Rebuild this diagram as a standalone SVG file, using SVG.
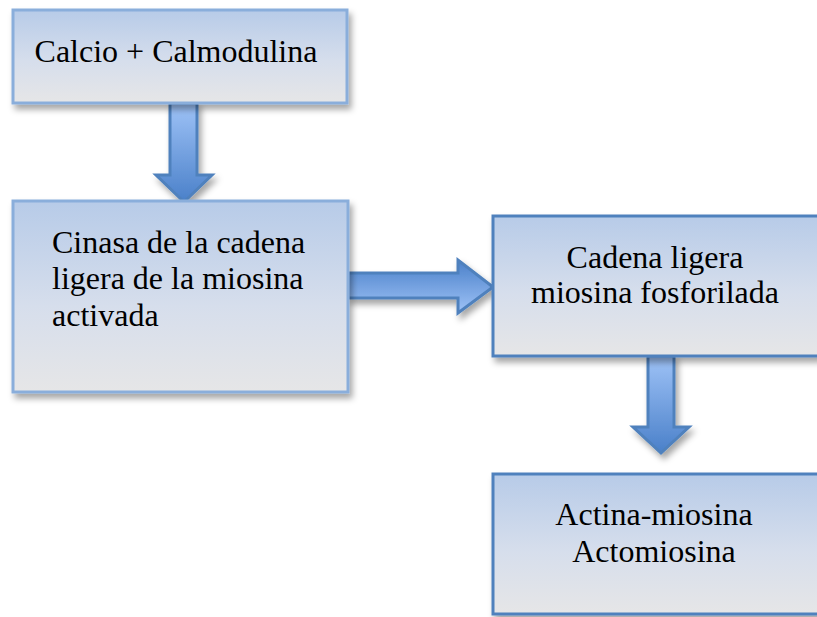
<svg xmlns="http://www.w3.org/2000/svg" width="817" height="617" viewBox="0 0 817 617">
<defs>
<linearGradient id="boxFill" x1="0" y1="0" x2="0" y2="1">
<stop offset="0" stop-color="#b7cbe8"/>
<stop offset="0.55" stop-color="#d6deec"/>
<stop offset="1" stop-color="#e6e6e7"/>
</linearGradient>
<linearGradient id="arrowV" x1="0" y1="0" x2="0" y2="1">
<stop offset="0" stop-color="#9fc3f7"/>
<stop offset="1" stop-color="#4a80c9"/>
</linearGradient>
<linearGradient id="arrowH" x1="0" y1="0" x2="0" y2="1">
<stop offset="0" stop-color="#4a80c9"/>
<stop offset="1" stop-color="#9fc3f7"/>
</linearGradient>
<filter id="shadow" x="-10%" y="-10%" width="130%" height="140%">
<feDropShadow dx="3" dy="5" stdDeviation="3" flood-color="#000" flood-opacity="0.35"/>
</filter>
</defs>
<style>
.box{fill:url(#boxFill);stroke-width:3;filter:url(#shadow)}
.light{stroke:#8aaedb}
.dark{stroke:#4f81bd}
.arrow{stroke:#4f81bd;stroke-width:3;stroke-linejoin:miter;filter:url(#shadow)}
.t{font-size:32px;fill:#000}
.c{text-anchor:middle}
</style>
<g id="connectors">
<polygon class="arrow" fill="url(#arrowV)" points="170,103 197,103 197,175 212,175 184,202 156,175 170,175"/>
<polygon class="arrow" fill="url(#arrowH)" points="348,273 458,273 458,260 493,287 458,313 458,298 348,298"/>
<polygon class="arrow" fill="url(#arrowV)" points="648,356 674,356 674,427 689,427 661,453 633,427 648,427"/>
</g>
<g font-family="'Liberation Serif', 'DejaVu Serif', serif">
<g id="node1">
<rect class="box light" x="13" y="10" width="334" height="93"/>
<text class="t c" x="176" y="62">Calcio + Calmodulina</text>
</g>
<g id="node2">
<rect class="box light" x="13" y="201" width="335" height="191"/>
<text class="t" x="52" y="253">Cinasa de la cadena</text>
<text class="t" x="52" y="289">ligera de la miosina</text>
<text class="t" x="52" y="326">activada</text>
</g>
<g id="node3">
<rect class="box dark" x="493" y="216" width="326" height="140"/>
<text class="t c" x="655" y="268">Cadena ligera</text>
<text class="t c" x="655" y="303">miosina fosforilada</text>
</g>
<g id="node4">
<rect class="box dark" x="493" y="474" width="326" height="140"/>
<text class="t c" x="654" y="525">Actina-miosina</text>
<text class="t c" x="654" y="562">Actomiosina</text>
</g>
</g>
</svg>
